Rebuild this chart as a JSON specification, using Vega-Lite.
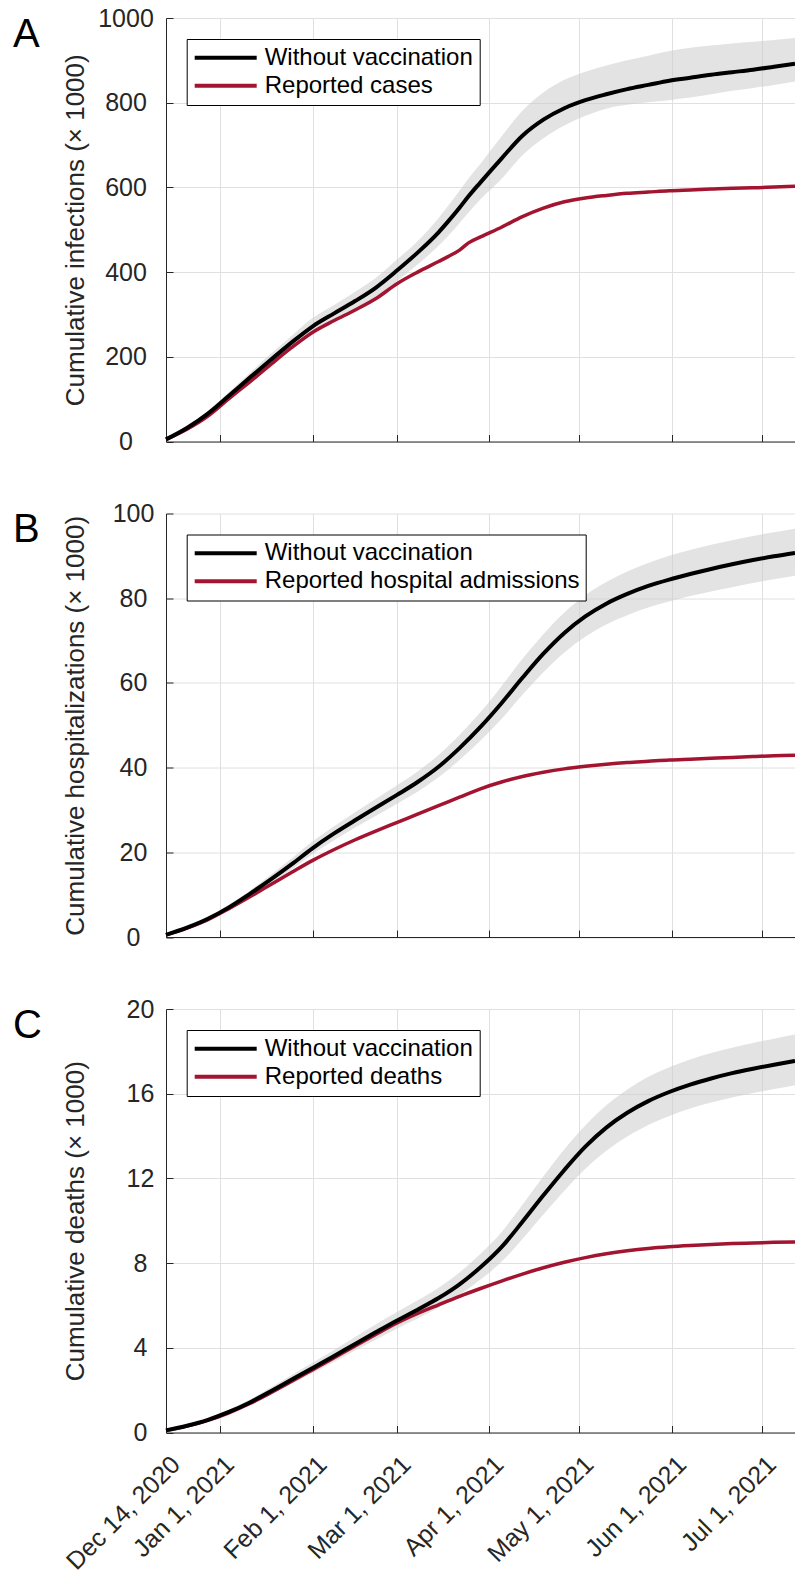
{
  "$schema": "https://vega.github.io/schema/vega-lite/v6.json",
  "background": "white",
  "padding": {"left": 13, "top": 6, "right": 0, "bottom": 0},
  "config": {
    "font": "Liberation Sans",
    "view": {"stroke": null},
    "axis": {"gridColor": "#e0e0e0", "gridWidth": 1, "domainColor": "#262626", "domainWidth": 1, "labelColor": "#262626", "titleColor": "#262626", "labelFont": "Liberation Sans", "titleFont": "Liberation Sans", "labelFontSize": 25, "titleFontSize": 26, "titleFontWeight": "normal", "ticks": true, "tickSize": -7, "tickColor": "#262626", "tickWidth": 1, "labelLimit": 400, "titleLimit": 600},
    "legend": {"labelFont": "Liberation Sans", "labelFontSize": 24, "labelColor": "#000000", "labelLimit": 600, "symbolType": "stroke", "symbolSize": 3844, "symbolStrokeWidth": 4, "labelOffset": 6, "strokeColor": "#000000", "fillColor": "#ffffff", "padding": 6, "clipHeight": 25.7, "rowPadding": 2},
    "title": {"fontSize": 40, "fontWeight": "normal", "color": "#000000", "anchor": "start", "frame": "group", "offset": 0, "baseline": "alphabetic", "font": "Liberation Sans"}
  },
  "datasets": {
    "A": [
      {"date": "2020-12-14", "model": 5, "lo": 3, "hi": 8, "reported": 5},
      {"date": "2020-12-21", "model": 32, "lo": 29, "hi": 36, "reported": 29},
      {"date": "2020-12-28", "model": 66, "lo": 60, "hi": 72, "reported": 60},
      {"date": "2021-01-04", "model": 108, "lo": 100, "hi": 117, "reported": 101},
      {"date": "2021-01-11", "model": 151, "lo": 140, "hi": 162, "reported": 141},
      {"date": "2021-01-18", "model": 193, "lo": 180, "hi": 207, "reported": 182},
      {"date": "2021-01-25", "model": 234, "lo": 219, "hi": 250, "reported": 222},
      {"date": "2021-02-01", "model": 272, "lo": 255, "hi": 292, "reported": 258},
      {"date": "2021-02-08", "model": 302, "lo": 283, "hi": 322, "reported": 285},
      {"date": "2021-02-15", "model": 331, "lo": 310, "hi": 353, "reported": 310},
      {"date": "2021-02-22", "model": 363, "lo": 339, "hi": 386, "reported": 337},
      {"date": "2021-03-01", "model": 403, "lo": 378, "hi": 429, "reported": 372},
      {"date": "2021-03-08", "model": 446, "lo": 418, "hi": 473, "reported": 400},
      {"date": "2021-03-15", "model": 494, "lo": 462, "hi": 528, "reported": 425},
      {"date": "2021-03-18", "model": 518, "lo": 484, "hi": 555, "reported": 436},
      {"date": "2021-03-22", "model": 552, "lo": 516, "hi": 592, "reported": 452},
      {"date": "2021-03-25", "model": 579, "lo": 541, "hi": 621, "reported": 469},
      {"date": "2021-03-29", "model": 612, "lo": 572, "hi": 656, "reported": 483},
      {"date": "2021-04-05", "model": 668, "lo": 620, "hi": 720, "reported": 506},
      {"date": "2021-04-12", "model": 722, "lo": 676, "hi": 781, "reported": 531},
      {"date": "2021-04-19", "model": 760, "lo": 716, "hi": 824, "reported": 551},
      {"date": "2021-04-26", "model": 787, "lo": 746, "hi": 854, "reported": 566},
      {"date": "2021-05-03", "model": 806, "lo": 769, "hi": 873, "reported": 575},
      {"date": "2021-05-10", "model": 820, "lo": 786, "hi": 888, "reported": 581},
      {"date": "2021-05-17", "model": 832, "lo": 795, "hi": 900, "reported": 586},
      {"date": "2021-05-24", "model": 842, "lo": 801, "hi": 911, "reported": 589},
      {"date": "2021-05-31", "model": 852, "lo": 806, "hi": 922, "reported": 592},
      {"date": "2021-06-07", "model": 859, "lo": 812, "hi": 930, "reported": 594},
      {"date": "2021-06-14", "model": 866, "lo": 820, "hi": 935, "reported": 596},
      {"date": "2021-06-21", "model": 872, "lo": 828, "hi": 940, "reported": 598},
      {"date": "2021-06-28", "model": 878, "lo": 835, "hi": 944, "reported": 599},
      {"date": "2021-07-05", "model": 885, "lo": 842, "hi": 948, "reported": 601},
      {"date": "2021-07-12", "model": 892, "lo": 850, "hi": 953, "reported": 603}
    ],
    "B": [
      {"date": "2020-12-14", "model": 0.5, "lo": 0.3, "hi": 0.8, "reported": 0.5},
      {"date": "2020-12-21", "model": 2.2, "lo": 1.9, "hi": 2.5, "reported": 2.1},
      {"date": "2020-12-28", "model": 4.3, "lo": 3.9, "hi": 4.7, "reported": 4.1},
      {"date": "2021-01-04", "model": 7.0, "lo": 6.4, "hi": 7.6, "reported": 6.7},
      {"date": "2021-01-11", "model": 10.2, "lo": 9.4, "hi": 11.0, "reported": 9.5},
      {"date": "2021-01-18", "model": 13.6, "lo": 12.6, "hi": 14.7, "reported": 12.4},
      {"date": "2021-01-25", "model": 17.2, "lo": 16.0, "hi": 18.6, "reported": 15.3},
      {"date": "2021-02-01", "model": 21.0, "lo": 19.6, "hi": 22.6, "reported": 18.1},
      {"date": "2021-02-08", "model": 24.4, "lo": 22.8, "hi": 26.1, "reported": 20.6},
      {"date": "2021-02-15", "model": 27.5, "lo": 25.8, "hi": 29.4, "reported": 22.9},
      {"date": "2021-02-22", "model": 30.5, "lo": 28.6, "hi": 32.6, "reported": 25.0},
      {"date": "2021-03-01", "model": 33.5, "lo": 31.4, "hi": 35.8, "reported": 27.0},
      {"date": "2021-03-08", "model": 36.6, "lo": 34.3, "hi": 39.1, "reported": 29.0},
      {"date": "2021-03-15", "model": 40.2, "lo": 37.7, "hi": 43.0, "reported": 31.0},
      {"date": "2021-03-22", "model": 44.6, "lo": 41.8, "hi": 47.7, "reported": 33.0},
      {"date": "2021-03-29", "model": 49.6, "lo": 46.4, "hi": 53.1, "reported": 35.0},
      {"date": "2021-04-05", "model": 55.2, "lo": 51.5, "hi": 59.2, "reported": 36.6},
      {"date": "2021-04-12", "model": 61.2, "lo": 57.2, "hi": 65.7, "reported": 37.9},
      {"date": "2021-04-19", "model": 66.9, "lo": 62.5, "hi": 71.5, "reported": 38.9},
      {"date": "2021-04-26", "model": 71.8, "lo": 67.2, "hi": 76.6, "reported": 39.7},
      {"date": "2021-05-03", "model": 75.7, "lo": 70.9, "hi": 80.7, "reported": 40.3},
      {"date": "2021-05-10", "model": 78.7, "lo": 73.8, "hi": 83.8, "reported": 40.8},
      {"date": "2021-05-17", "model": 81.0, "lo": 76.0, "hi": 86.3, "reported": 41.2},
      {"date": "2021-05-24", "model": 82.9, "lo": 77.8, "hi": 88.3, "reported": 41.5},
      {"date": "2021-05-31", "model": 84.4, "lo": 79.2, "hi": 90.0, "reported": 41.8},
      {"date": "2021-06-07", "model": 85.7, "lo": 80.5, "hi": 91.4, "reported": 42.0},
      {"date": "2021-06-14", "model": 86.9, "lo": 81.6, "hi": 92.6, "reported": 42.2},
      {"date": "2021-06-21", "model": 88.0, "lo": 82.6, "hi": 93.7, "reported": 42.4},
      {"date": "2021-06-28", "model": 89.0, "lo": 83.6, "hi": 94.7, "reported": 42.6},
      {"date": "2021-07-05", "model": 89.9, "lo": 84.5, "hi": 95.6, "reported": 42.8},
      {"date": "2021-07-12", "model": 90.7, "lo": 85.3, "hi": 96.4, "reported": 42.9}
    ],
    "C": [
      {"date": "2020-12-14", "model": 0.10, "lo": 0.05, "hi": 0.15, "reported": 0.10},
      {"date": "2020-12-21", "model": 0.32, "lo": 0.27, "hi": 0.38, "reported": 0.30},
      {"date": "2020-12-28", "model": 0.60, "lo": 0.52, "hi": 0.68, "reported": 0.57},
      {"date": "2021-01-04", "model": 0.97, "lo": 0.87, "hi": 1.08, "reported": 0.93},
      {"date": "2021-01-11", "model": 1.42, "lo": 1.30, "hi": 1.56, "reported": 1.37},
      {"date": "2021-01-18", "model": 1.95, "lo": 1.80, "hi": 2.12, "reported": 1.88},
      {"date": "2021-01-25", "model": 2.50, "lo": 2.31, "hi": 2.71, "reported": 2.42},
      {"date": "2021-02-01", "model": 3.05, "lo": 2.82, "hi": 3.30, "reported": 2.97},
      {"date": "2021-02-08", "model": 3.60, "lo": 3.33, "hi": 3.89, "reported": 3.52},
      {"date": "2021-02-15", "model": 4.17, "lo": 3.86, "hi": 4.50, "reported": 4.08},
      {"date": "2021-02-22", "model": 4.73, "lo": 4.38, "hi": 5.10, "reported": 4.63},
      {"date": "2021-03-01", "model": 5.28, "lo": 4.90, "hi": 5.68, "reported": 5.16},
      {"date": "2021-03-08", "model": 5.80, "lo": 5.38, "hi": 6.24, "reported": 5.62},
      {"date": "2021-03-15", "model": 6.35, "lo": 5.90, "hi": 6.84, "reported": 6.03},
      {"date": "2021-03-22", "model": 7.00, "lo": 6.50, "hi": 7.56, "reported": 6.43},
      {"date": "2021-03-29", "model": 7.80, "lo": 7.22, "hi": 8.44, "reported": 6.80},
      {"date": "2021-04-05", "model": 8.75, "lo": 8.06, "hi": 9.46, "reported": 7.15},
      {"date": "2021-04-12", "model": 9.95, "lo": 9.14, "hi": 10.76, "reported": 7.48},
      {"date": "2021-04-19", "model": 11.20, "lo": 10.30, "hi": 12.10, "reported": 7.78},
      {"date": "2021-04-26", "model": 12.40, "lo": 11.42, "hi": 13.38, "reported": 8.04},
      {"date": "2021-05-03", "model": 13.50, "lo": 12.45, "hi": 14.50, "reported": 8.26},
      {"date": "2021-05-10", "model": 14.40, "lo": 13.30, "hi": 15.45, "reported": 8.44},
      {"date": "2021-05-17", "model": 15.10, "lo": 13.98, "hi": 16.20, "reported": 8.58},
      {"date": "2021-05-24", "model": 15.65, "lo": 14.52, "hi": 16.80, "reported": 8.69},
      {"date": "2021-05-31", "model": 16.08, "lo": 14.95, "hi": 17.25, "reported": 8.77},
      {"date": "2021-06-07", "model": 16.43, "lo": 15.30, "hi": 17.62, "reported": 8.83},
      {"date": "2021-06-14", "model": 16.72, "lo": 15.58, "hi": 17.92, "reported": 8.88},
      {"date": "2021-06-21", "model": 16.97, "lo": 15.82, "hi": 18.17, "reported": 8.92},
      {"date": "2021-06-28", "model": 17.18, "lo": 16.03, "hi": 18.40, "reported": 8.95},
      {"date": "2021-07-05", "model": 17.37, "lo": 16.22, "hi": 18.60, "reported": 8.98},
      {"date": "2021-07-12", "model": 17.55, "lo": 16.40, "hi": 18.80, "reported": 9.00}
    ]
  },
  "spacing": 71.5,
  "bounds": "flush",
  "resolve": {"scale": {"x": "independent", "y": "independent", "color": "independent"}, "legend": {"color": "independent"}},
  "vconcat": [
    {
      "width": 629, "height": 423.5,
      "data": {"name": "A"},
      "title": {"text": "A", "dx": -153, "dy": 52.5},
      "encoding": {
        "x": {"field": "date", "type": "temporal",
          "scale": {"type": "utc", "domain": [{"year": 2020, "month": 12, "date": 14, "utc": true}, {"year": 2021, "month": 7, "date": 12, "utc": true}]},
          "axis": {"title": null, "labels": false, "grid": true, "values": [{"year": 2020, "month": 12, "date": 14, "utc": true}, {"year": 2021, "month": 1, "date": 1, "utc": true}, {"year": 2021, "month": 2, "date": 1, "utc": true}, {"year": 2021, "month": 3, "date": 1, "utc": true}, {"year": 2021, "month": 4, "date": 1, "utc": true}, {"year": 2021, "month": 5, "date": 1, "utc": true}, {"year": 2021, "month": 6, "date": 1, "utc": true}, {"year": 2021, "month": 7, "date": 1, "utc": true}]}}
      },
      "layer": [
        {"mark": {"type": "area", "color": "#cccccc", "opacity": 0.55, "interpolate": "monotone"},
         "encoding": {
           "y": {"field": "lo", "type": "quantitative", "scale": {"domain": [0, 1000], "nice": false},
             "axis": {"title": "Cumulative infections (× 1000)", "format": "d", "values": [0, 200, 400, 600, 800, 1000], "grid": true, "labelAlign": "center", "labelPadding": 47.5, "titleX": -83, "titleY": 211.75, "titleAngle": -90, "titleAlign": "center", "titleBaseline": "alphabetic"}},
           "y2": {"field": "hi"}}},
        {"mark": {"type": "line", "strokeWidth": 3.5, "interpolate": "monotone"},
         "encoding": {
           "y": {"field": "reported", "type": "quantitative", "title": "Cumulative infections (× 1000)"},
           "color": {"datum": "Reported cases", "type": "nominal",
             "scale": {"domain": ["Without vaccination", "Reported cases"], "range": ["#000000", "#A2142F"]},
             "legend": {"title": null, "orient": "none", "legendX": 20.7, "legendY": 21}}}},
        {"mark": {"type": "line", "strokeWidth": 4, "interpolate": "monotone"},
         "encoding": {
           "y": {"field": "model", "type": "quantitative", "title": "Cumulative infections (× 1000)"},
           "color": {"datum": "Without vaccination", "type": "nominal"}}}
      ]
    },
    {
      "width": 629, "height": 423.5,
      "data": {"name": "B"},
      "title": {"text": "B", "dx": -153, "dy": 52.5},
      "encoding": {
        "x": {"field": "date", "type": "temporal",
          "scale": {"type": "utc", "domain": [{"year": 2020, "month": 12, "date": 14, "utc": true}, {"year": 2021, "month": 7, "date": 12, "utc": true}]},
          "axis": {"title": null, "labels": false, "grid": true, "values": [{"year": 2020, "month": 12, "date": 14, "utc": true}, {"year": 2021, "month": 1, "date": 1, "utc": true}, {"year": 2021, "month": 2, "date": 1, "utc": true}, {"year": 2021, "month": 3, "date": 1, "utc": true}, {"year": 2021, "month": 4, "date": 1, "utc": true}, {"year": 2021, "month": 5, "date": 1, "utc": true}, {"year": 2021, "month": 6, "date": 1, "utc": true}, {"year": 2021, "month": 7, "date": 1, "utc": true}]}}
      },
      "layer": [
        {"mark": {"type": "area", "color": "#cccccc", "opacity": 0.55, "interpolate": "monotone"},
         "encoding": {
           "y": {"field": "lo", "type": "quantitative", "scale": {"domain": [0, 100], "nice": false},
             "axis": {"title": "Cumulative hospitalizations (× 1000)", "format": "d", "values": [0, 20, 40, 60, 80, 100], "grid": true, "labelAlign": "center", "labelPadding": 40, "titleX": -83, "titleY": 211.75, "titleAngle": -90, "titleAlign": "center", "titleBaseline": "alphabetic"}},
           "y2": {"field": "hi"}}},
        {"mark": {"type": "line", "strokeWidth": 3.5, "interpolate": "monotone"},
         "encoding": {
           "y": {"field": "reported", "type": "quantitative", "title": "Cumulative hospitalizations (× 1000)"},
           "color": {"datum": "Reported hospital admissions", "type": "nominal",
             "scale": {"domain": ["Without vaccination", "Reported hospital admissions"], "range": ["#000000", "#A2142F"]},
             "legend": {"title": null, "orient": "none", "legendX": 20.7, "legendY": 21}}}},
        {"mark": {"type": "line", "strokeWidth": 4, "interpolate": "monotone"},
         "encoding": {
           "y": {"field": "model", "type": "quantitative", "title": "Cumulative hospitalizations (× 1000)"},
           "color": {"datum": "Without vaccination", "type": "nominal"}}}
      ]
    },
    {
      "width": 629, "height": 423.5,
      "data": {"name": "C"},
      "title": {"text": "C", "dx": -153, "dy": 52.5},
      "encoding": {
        "x": {"field": "date", "type": "temporal",
          "scale": {"type": "utc", "domain": [{"year": 2020, "month": 12, "date": 14, "utc": true}, {"year": 2021, "month": 7, "date": 12, "utc": true}]},
          "axis": {"title": null, "labels": true, "grid": true, "labelExpr": "utcFormat(datum.value, '%b %-d, %Y')", "labelAngle": -45, "labelAlign": "right", "labelBaseline": "top", "labelPadding": 26, "labelOffset": 1, "labelFlush": false, "labelOverlap": false, "labelBound": false, "values": [{"year": 2020, "month": 12, "date": 14, "utc": true}, {"year": 2021, "month": 1, "date": 1, "utc": true}, {"year": 2021, "month": 2, "date": 1, "utc": true}, {"year": 2021, "month": 3, "date": 1, "utc": true}, {"year": 2021, "month": 4, "date": 1, "utc": true}, {"year": 2021, "month": 5, "date": 1, "utc": true}, {"year": 2021, "month": 6, "date": 1, "utc": true}, {"year": 2021, "month": 7, "date": 1, "utc": true}]}}
      },
      "layer": [
        {"mark": {"type": "area", "color": "#cccccc", "opacity": 0.55, "interpolate": "monotone"},
         "encoding": {
           "y": {"field": "lo", "type": "quantitative", "scale": {"domain": [0, 20], "nice": false},
             "axis": {"title": "Cumulative deaths (× 1000)", "format": "d", "values": [0, 4, 8, 12, 16, 20], "grid": true, "labelAlign": "center", "labelPadding": 33, "titleX": -83, "titleY": 211.75, "titleAngle": -90, "titleAlign": "center", "titleBaseline": "alphabetic"}},
           "y2": {"field": "hi"}}},
        {"mark": {"type": "line", "strokeWidth": 3.5, "interpolate": "monotone"},
         "encoding": {
           "y": {"field": "reported", "type": "quantitative", "title": "Cumulative deaths (× 1000)"},
           "color": {"datum": "Reported deaths", "type": "nominal",
             "scale": {"domain": ["Without vaccination", "Reported deaths"], "range": ["#000000", "#A2142F"]},
             "legend": {"title": null, "orient": "none", "legendX": 20.7, "legendY": 21}}}},
        {"mark": {"type": "line", "strokeWidth": 4, "interpolate": "monotone"},
         "encoding": {
           "y": {"field": "model", "type": "quantitative", "title": "Cumulative deaths (× 1000)"},
           "color": {"datum": "Without vaccination", "type": "nominal"}}}
      ]
    }
  ]
}
